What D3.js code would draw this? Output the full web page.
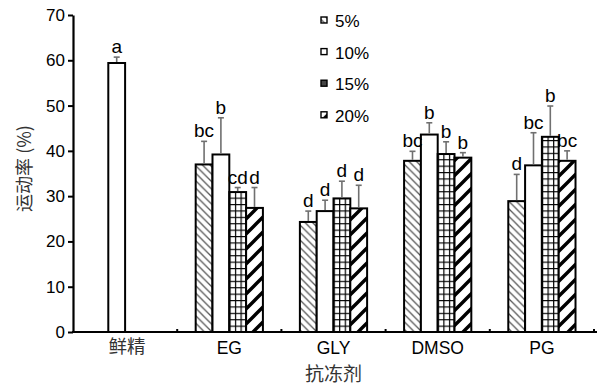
<!DOCTYPE html>
<html>
<head>
<meta charset="utf-8">
<script src="https://cdn.jsdelivr.net/npm/d3@7"></script>
<style>
  body { margin: 0; background: #fff; }
  svg { display: block; }
  text { font-family: "Liberation Sans", Arial, sans-serif; }
  .cjk { font-family: "Noto Sans CJK SC", "Noto Sans", sans-serif; }
</style>
</head>
<body>
<svg id="chart" width="599" height="385"></svg>
<script>
// Sperm motility (%) by cryoprotectant and concentration
const categories = ["鲜精", "EG", "GLY", "DMSO", "PG"];
const series = ["5%", "10%", "15%", "20%"];
const yTicks = [0, 10, 20, 30, 40, 50, 60, 70];

// means per concentration (fresh semen only has one value)
const mean5  = [null, 37.0, 24.3, 37.8, 28.9];
const mean10 = [59.4, 39.2, 26.7, 43.6, 36.8];
const mean15 = [null, 30.9, 29.5, 39.3, 43.1];
const mean20 = [null, 27.4, 27.3, 38.5, 37.8];

// standard deviations
const err5  = [null, 5.1, 2.4, 2.1, 5.9];
const err10 = [1.3, 8.1, 2.4, 2.6, 7.2];
const err15 = [null, 1.0, 3.8, 2.7, 6.8];
const err20 = [null, 4.5, 5.1, 1.1, 2.2];

// significance letters
const sig5  = ["", "bc", "d", "bc", "d"];
const sig10 = ["a", "b", "d", "b", "bc"];
const sig15 = ["", "cd", "d", "b", "b"];
const sig20 = ["", "d", "d", "b", "bc"];

const means = [mean5, mean10, mean15, mean20];
const errs = [err5, err10, err15, err20];
const sigs = [sig5, sig10, sig15, sig20];

const rows = [];
categories.forEach((c, ci) => {
  series.forEach((s, si) => {
    if (means[si][ci] != null) {
      rows.push({ cat: c, ser: s, si, v: means[si][ci], e: errs[si][ci], sig: sigs[si][ci] });
    }
  });
});

const svg = d3.select("#chart");
const plotLeft = 73, plotRight = 594, plotTop = 15, plotBottom = 332;

const x0 = d3.scaleBand().domain(categories).range([plotLeft, plotRight]).paddingInner(0).paddingOuter(0);
const x1 = d3.scaleBand().domain(series).range([0, x0.bandwidth()]).paddingInner(0).paddingOuter(1.1);
const y = d3.scaleLinear().domain([0, 70]).range([plotBottom, plotTop]);

const defs = svg.append("defs");

// 5%: thin grey back-slash hatch
const p5 = defs.append("pattern").attr("id", "pat0")
  .attr("patternUnits", "userSpaceOnUse").attr("width", 7.5).attr("height", 7.5);
p5.append("rect").attr("width", 7.5).attr("height", 7.5).attr("fill", "#fff");
p5.append("path").attr("d", "M0,0L7.5,7.5M-1,6.5L1,8.5M6.5,-1L8.5,1")
  .attr("stroke", "#555").attr("stroke-width", 1.3);

// 10%: plain white
const p10 = defs.append("pattern").attr("id", "pat1")
  .attr("patternUnits", "userSpaceOnUse").attr("width", 4).attr("height", 4);
p10.append("rect").attr("width", 4).attr("height", 4).attr("fill", "#fff");

// 20%: thick black forward-slash stripes
const s20 = 15;
const p20 = defs.append("pattern").attr("id", "pat3")
  .attr("patternUnits", "userSpaceOnUse").attr("width", s20).attr("height", s20);
p20.append("rect").attr("width", s20).attr("height", s20).attr("fill", "#fff");
p20.append("path").attr("d", `M0,${s20}L${s20},0M-2,2L2,-2M${s20 - 2},${s20 + 2}L${s20 + 2},${s20 - 2}`)
  .attr("stroke", "#000").attr("stroke-width", 3.4);

// 15%: black grid, aligned to each bar's left edge
function gridPattern(id, xPos, w) {
  const cw = w / 3, ch = 6.4;
  const p = defs.append("pattern").attr("id", id)
    .attr("patternUnits", "userSpaceOnUse").attr("x", xPos).attr("y", plotBottom)
    .attr("width", cw).attr("height", ch);
  p.append("rect").attr("width", cw).attr("height", ch).attr("fill", "#fff");
  p.append("path").attr("d", `M0,0V${ch}M0,0H${cw}`)
    .attr("stroke", "#000").attr("stroke-width", 2.4);
  return id;
}

function fillFor(d, i) {
  if (d.si === 2) {
    return `url(#${gridPattern("grid" + i, x0(d.cat) + x1(d.ser), x1.bandwidth())})`;
  }
  return `url(#pat${d.si})`;
}

// bars
svg.append("g").selectAll("rect").data(rows).join("rect")
  .attr("x", d => x0(d.cat) + x1(d.ser))
  .attr("y", d => y(d.v))
  .attr("width", x1.bandwidth())
  .attr("height", d => y(0) - y(d.v))
  .attr("fill", fillFor)
  .attr("stroke", "#000").attr("stroke-width", 2);

// error bars (upper half)
const eb = svg.append("g").attr("stroke", "#707070").attr("stroke-width", 1.6);
eb.selectAll("line.v").data(rows).join("line").attr("class", "v")
  .attr("x1", d => x0(d.cat) + x1(d.ser) + x1.bandwidth() / 2)
  .attr("x2", d => x0(d.cat) + x1(d.ser) + x1.bandwidth() / 2)
  .attr("y1", d => y(d.v) - 1)
  .attr("y2", d => y(d.v + d.e));
eb.selectAll("line.c").data(rows).join("line").attr("class", "c")
  .attr("x1", d => x0(d.cat) + x1(d.ser) + x1.bandwidth() / 2 - 3)
  .attr("x2", d => x0(d.cat) + x1(d.ser) + x1.bandwidth() / 2 + 3)
  .attr("y1", d => y(d.v + d.e))
  .attr("y2", d => y(d.v + d.e));

// significance letters
svg.append("g").selectAll("text").data(rows).join("text")
  .attr("x", d => x0(d.cat) + x1(d.ser) + x1.bandwidth() / 2)
  .attr("y", d => y(d.v + d.e) - 4)
  .attr("text-anchor", "middle")
  .attr("font-size", 19)
  .attr("fill", "#000")
  .text(d => d.sig);

// y axis
const yAxis = svg.append("g").attr("transform", `translate(${plotLeft},0)`)
  .call(d3.axisLeft(y).tickValues(yTicks).tickSize(5).tickSizeOuter(0).tickPadding(3));
yAxis.select(".domain").attr("stroke-width", 2.2);
yAxis.selectAll(".tick line").attr("stroke-width", 2);
yAxis.selectAll(".tick text").attr("font-size", 17).attr("fill", "#000")
  .attr("font-family", "'Liberation Sans', Arial, sans-serif");

// x axis
const xAxis = svg.append("g").attr("transform", `translate(0,${plotBottom})`)
  .call(d3.axisBottom(x0).tickSize(0).tickSizeOuter(0).tickPadding(10));
xAxis.select(".domain").attr("stroke-width", 2.2)
  .attr("d", `M${plotLeft - 1},0H${plotRight + 3}`);
xAxis.selectAll(".tick text")
  .attr("font-size", 17.5).attr("fill", "#000")
  .attr("font-family", "'Liberation Sans', Arial, sans-serif")
  .each(function (d) {
    if (d === categories[0]) {
      d3.select(this).attr("class", "cjk").attr("font-size", 18.5).attr("fill", "#333")
        .attr("dy", "0.62em").attr("dx", 2);
    }
  });

// small group-separator ticks on the x axis
xAxis.append("g").selectAll("line").data(categories).join("line")
  .attr("x1", d => x0(d) + x0.bandwidth())
  .attr("x2", d => x0(d) + x0.bandwidth())
  .attr("y1", 0).attr("y2", -3)
  .attr("stroke", "#000").attr("stroke-width", 2);

// axis titles
svg.append("text").attr("class", "cjk")
  .attr("x", (x0("GLY") + x0.bandwidth() / 2)).attr("y", 381)
  .attr("text-anchor", "middle").attr("font-size", 19).attr("fill", "#333")
  .text("抗冻剂");

svg.append("text").attr("class", "cjk")
  .attr("transform", `translate(31,${(plotTop + plotBottom) / 2 - 5}) rotate(-90)`)
  .attr("text-anchor", "middle").attr("font-size", 18).attr("fill", "#333")
  .text("运动率 (%)");

// legend
const legend = svg.append("g").attr("transform", "translate(321,0)");
const lg = legend.selectAll("g").data(series).join("g")
  .attr("transform", (d, i) => `translate(0,${27 + i * 31.6})`);
lg.append("rect")
  .attr("x", 0).attr("y", -10).attr("width", 6).attr("height", 6)
  .attr("fill", (d, i) => i === 2 ? "#444" : `url(#pat${i})`)
  .attr("stroke", "#000").attr("stroke-width", 1.4);
lg.append("text")
  .attr("x", 14).attr("y", 0)
  .attr("font-size", 17).attr("fill", "#000")
  .text(d => d);
</script>
</body>
</html>
